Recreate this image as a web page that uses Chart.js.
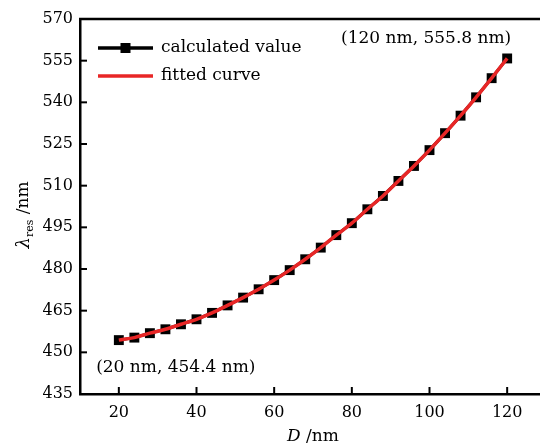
<!DOCTYPE html>
<html>
<head>
<meta charset="utf-8">
<script src="https://cdn.jsdelivr.net/npm/chart.js@4"></script>
<style>
    html, body { margin: 0; padding: 0; background: #fff; }
    #wrap { width: 540px; height: 446px; overflow: hidden; }
</style>
</head>
<body>
<div id="wrap"><canvas id="chart" width="560" height="446"></canvas></div>
<script>
const dValues = [20, 24, 28, 32, 36, 40, 44, 48, 52, 56, 60, 64, 68, 72, 76, 80, 84, 88, 92, 96, 100, 104, 108, 112, 116, 120];
const lambdaValues = [454.4, 455.3, 456.9, 458.3, 460.1, 461.9, 464.2, 466.9, 469.7, 472.7, 476.0, 479.6, 483.5, 487.7, 492.2, 496.5, 501.5, 506.3, 511.7, 517.1, 522.8, 528.9, 535.2, 541.8, 548.7, 555.8];
const xTicks = [20, 40, 60, 80, 100, 120];
const yTicks = [435, 450, 465, 480, 495, 510, 525, 540, 555, 570];
const seriesNames = ['calculated value', 'fitted curve'];
const pointLabels = ['(20 nm, 454.4 nm)', '(120 nm, 555.8 nm)'];

const RED = 'rgb(232, 38, 38)';
const FONT = '"DejaVu Serif", serif';

const points = dValues.map((d, i) => ({ x: d, y: lambdaValues[i] }));

// axis frame, inward ticks, legend, labels and axis titles
const decorPlugin = {
    id: 'decor',
    afterDraw(chart) {
        const ctx = chart.ctx;
        const area = chart.chartArea;
        const xs = chart.scales.x;
        const ys = chart.scales.y;
        ctx.save();
        ctx.strokeStyle = '#000';
        ctx.lineWidth = 2.5;
        ctx.beginPath();
        ctx.moveTo(area.left - 1, area.top);
        ctx.lineTo(area.right, area.top);
        ctx.stroke();

        ctx.lineWidth = 2;
        xs.ticks.forEach(t => {
            const px = xs.getPixelForValue(t.value);
            ctx.beginPath();
            ctx.moveTo(px, area.bottom);
            ctx.lineTo(px, area.bottom - 7);
            ctx.stroke();
        });
        ys.ticks.forEach(t => {
            const py = ys.getPixelForValue(t.value);
            ctx.beginPath();
            ctx.moveTo(area.left, py);
            ctx.lineTo(area.left + 7, py);
            ctx.stroke();
        });

        // legend
        const lx = area.left + 18;
        const ly = [area.top + 29, area.top + 57];
        ctx.lineWidth = 3.5;
        ctx.strokeStyle = '#000';
        ctx.beginPath();
        ctx.moveTo(lx, ly[0]);
        ctx.lineTo(lx + 55, ly[0]);
        ctx.stroke();
        ctx.fillStyle = '#000';
        ctx.fillRect(lx + 27.5 - 5, ly[0] - 5, 10, 10);
        ctx.strokeStyle = RED;
        ctx.beginPath();
        ctx.moveTo(lx, ly[1]);
        ctx.lineTo(lx + 55, ly[1]);
        ctx.stroke();
        ctx.font = '17px ' + FONT;
        ctx.textBaseline = 'middle';
        ctx.textAlign = 'left';
        ctx.fillText(seriesNames[0], lx + 63, ly[0]);
        ctx.fillText(seriesNames[1], lx + 63, ly[1]);

        // point labels
        ctx.textAlign = 'center';
        const last = dValues.length - 1;
        ctx.fillText(pointLabels[0], xs.getPixelForValue(dValues[0]) + 57, ys.getPixelForValue(lambdaValues[0]) + 27);
        ctx.fillText(pointLabels[1], xs.getPixelForValue(dValues[last]) - 81, ys.getPixelForValue(lambdaValues[last]) - 20);

        // x title: D /nm
        ctx.textAlign = 'left';
        ctx.font = 'italic 17px ' + FONT;
        const wD = ctx.measureText('D').width;
        ctx.font = '17px ' + FONT;
        const wNm = ctx.measureText(' /nm').width;
        const tx = 313 - (wD + wNm) / 2;
        ctx.font = 'italic 17px ' + FONT;
        ctx.fillText('D', tx, 437);
        ctx.font = '17px ' + FONT;
        ctx.fillText(' /nm', tx + wD, 437);

        // y title: lambda_res /nm
        ctx.translate(24, 215);
        ctx.rotate(-Math.PI / 2);
        ctx.font = 'italic 18px ' + FONT;
        const wL = ctx.measureText('λ').width;
        ctx.font = '11px ' + FONT;
        const wR = ctx.measureText('res').width;
        ctx.font = '17px ' + FONT;
        const wN = ctx.measureText(' /nm').width;
        let cx = -(wL + wR + wN) / 2;
        ctx.font = 'italic 18px ' + FONT;
        ctx.fillText('λ', cx, 0);
        cx += wL;
        ctx.font = '11px ' + FONT;
        ctx.fillText('res', cx, 6);
        cx += wR;
        ctx.font = '17px ' + FONT;
        ctx.fillText(' /nm', cx, 0);
        ctx.restore();
    }
};

new Chart(document.getElementById('chart'), {
    type: 'line',
    data: {
        datasets: [
            {
                label: seriesNames[0],
                data: points,
                borderColor: '#000',
                backgroundColor: '#000',
                borderWidth: 3,
                pointStyle: 'rect',
                pointRadius: 7,
                pointBorderWidth: 0,
                order: 2
            },
            {
                label: seriesNames[1],
                data: points,
                borderColor: RED,
                borderWidth: 3.5,
                pointRadius: 0,
                cubicInterpolationMode: 'monotone',
                order: 1
            }
        ]
    },
    options: {
        responsive: false,
        animation: false,
        layout: { padding: { top: 19, right: 14, left: 0, bottom: 0 } },
        plugins: {
            legend: { display: false },
            tooltip: { enabled: false }
        },
        scales: {
            x: {
                type: 'linear',
                min: 10,
                max: 130,
                afterBuildTicks: s => { s.ticks = xTicks.map(v => ({ value: v })); },
                afterFit: s => { s.height = 52; },
                grid: { display: false, drawTicks: false },
                border: { display: true, color: '#000', width: 2.5 },
                ticks: { color: '#000', font: { family: FONT, size: 16 }, padding: 9, maxRotation: 0 }
            },
            y: {
                min: 435,
                max: 570,
                afterBuildTicks: s => { s.ticks = yTicks.map(v => ({ value: v })); },
                afterFit: s => { s.width = 80; },
                grid: { display: false, drawTicks: false },
                border: { display: true, color: '#000', width: 2.5 },
                ticks: { color: '#000', font: { family: FONT, size: 16 }, padding: 7 }
            }
        }
    },
    plugins: [decorPlugin]
});
</script>
</body>
</html>
